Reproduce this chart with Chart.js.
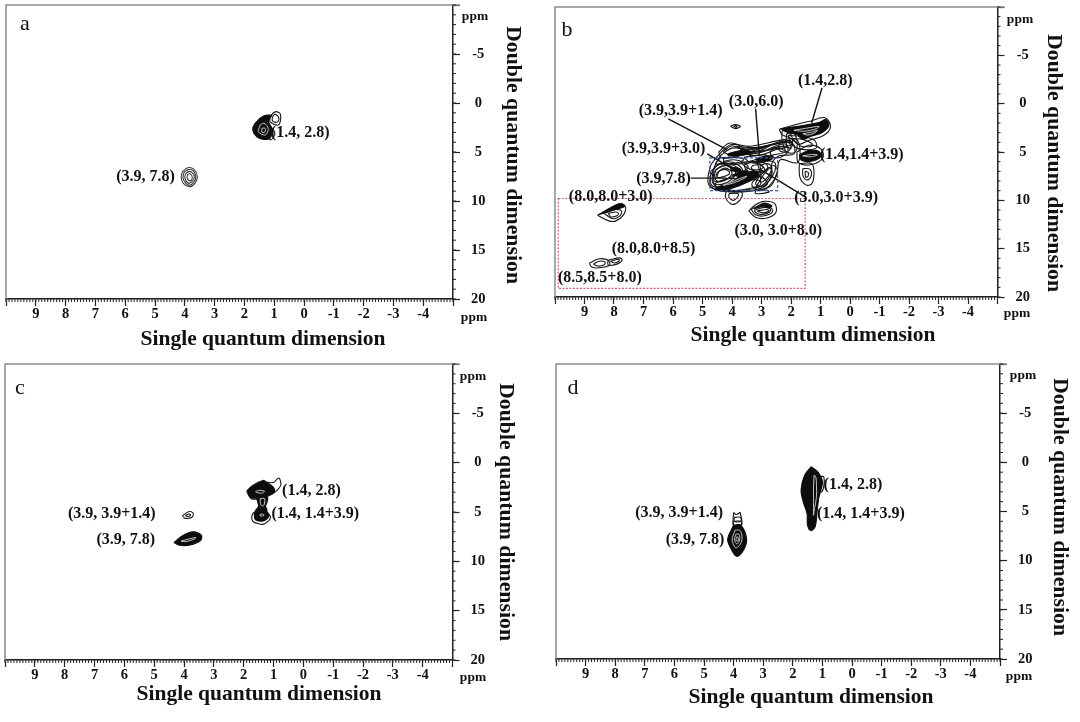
<!DOCTYPE html>
<html>
<head>
<meta charset="utf-8">
<title>Double quantum NMR spectra</title>
<script src="https://cdn.jsdelivr.net/npm/chart.js@4/dist/chart.umd.min.js"></script>
<style>
  html, body { margin: 0; padding: 0; background: #fff; }
  #page { position: relative; width: 1080px; height: 722px; overflow: hidden; }
  canvas { position: absolute; filter: blur(0.35px); }
</style>
</head>
<body>
<div id="page">
  <canvas id="panelA"></canvas>
  <canvas id="panelB"></canvas>
  <canvas id="panelC"></canvas>
  <canvas id="panelD"></canvas>
</div>
<script>
// Axis ticks (ppm)
const sqTicks = [9, 8, 7, 6, 5, 4, 3, 2, 1, 0, -1, -2, -3, -4];
const dqTicks = [-5, 0, 5, 10, 15, 20];

// Contours, each point is [single quantum, double quantum] in ppm
// Panel a
const aPeak14Lobe = [[0.8,1.05],[0.94,0.88],[1.08,1.2],[1.14,1.9],[0.86,2.25],[0.78,1.57]];
const aPeak14Lobe2 = [[0.88,1.3],[0.98,1.15],[1.06,1.5],[1.05,1.85],[0.9,1.95],[0.84,1.6]];
const aPeak14Tail = [[1.08,2.6],[0.98,3.0],[1.02,3.5],[1.14,3.75],[1.2,3.2]];
const aPeak14Solid = [[1.08,1.22],[1.36,1.33],[1.64,2.07],[1.72,2.75],[1.58,3.44],[1.36,3.71],[1.14,3.6],[1.08,2.6],[1.19,1.9]];
const aPeak14Core = [[1.47,2.25],[1.53,2.93],[1.3,3.27],[1.2,2.6],[1.34,2.07]];
const aPeak14Core2 = [[1.4,2.55],[1.42,2.95],[1.32,3.0],[1.3,2.6]];
const aPeak39Ring1 = [[4.08,7.0],[3.9,6.6],[3.7,6.75],[3.58,7.5],[3.66,8.2],[3.85,8.55],[4.05,8.2],[4.12,7.6]];
const aPeak39Ring2 = [[4.02,7.05],[3.88,6.8],[3.72,6.9],[3.63,7.5],[3.7,8.1],[3.86,8.4],[4.0,8.05],[4.06,7.6]];
const aPeak39Ring3 = [[3.96,7.15],[3.86,7.0],[3.75,7.1],[3.68,7.55],[3.75,8.0],[3.86,8.2],[3.96,7.95],[4.0,7.55]];
const aPeak39Ring4 = [[3.9,7.25],[3.8,7.25],[3.75,7.65],[3.82,7.95],[3.92,7.65]];

// Panel b
const bPeak14Ring = [[2.4,2.65],[1.9,2.2],[1.4,1.85],[0.85,1.45],[0.66,2.4],[0.9,3.3],[1.4,3.8],[1.75,4.2],[2.0,3.6],[2.3,3.2]];
const bPeak14Solid = [[2.35,2.6],[1.9,2.4],[1.5,2.2],[1.05,1.95],[0.82,1.65],[0.72,2.3],[0.95,3.0],[1.35,3.4],[1.6,3.7],[1.8,3.2],[2.1,3.0]];
const bPeak14Stripe = [[1.9,2.75],[1.5,2.55],[1.05,2.35],[1.15,2.6],[1.55,2.85]];
const bPeak14Stripe2 = [[1.6,3.1],[1.3,2.95],[1.1,2.75],[1.25,3.1],[1.45,3.25]];
const bPeak39Solid = [[4.55,8.7],[4.0,8.05],[3.6,7.25],[3.2,7.0],[3.1,7.4],[3.5,8.15],[4.0,8.75],[4.4,9.05]];
const bPeak39Stripe = [[4.3,8.45],[3.9,7.95],[3.5,7.5],[3.6,7.75],[4.0,8.25]];
const bPeak39Solid2 = [[4.05,6.6],[3.75,6.7],[3.7,7.0],[4.0,6.95]];
const bPeak39Solid3 = [[4.0,7.4],[3.65,7.0],[3.45,7.05],[3.7,7.5]];
const bPeak43Solid = [[4.15,5.2],[3.7,4.85],[3.4,4.9],[3.3,5.15],[3.7,5.3],[4.1,5.4]];
const bPeak30Solid = [[3.2,5.75],[2.9,5.45],[2.6,5.55],[2.75,5.9],[3.1,6.0]];
const bPeak54Solid = [[1.72,5.3],[1.4,4.85],[1.05,4.95],[1.0,5.5],[1.3,5.95],[1.65,5.85]];
const bPeak54Stripe = [[1.6,5.4],[1.3,5.25],[1.1,5.3],[1.35,5.5]];
const bPeak54Ring = [[1.8,5.0],[1.4,4.3],[0.98,4.7],[0.92,5.6],[1.3,6.3],[1.75,6.1]];
const bPeak54Upper = [[2.1,3.3],[1.6,3.4],[1.2,3.8],[1.15,4.6],[1.7,4.7],[1.95,4.2]];
const bPeak54Upper2 = [[1.95,3.6],[1.6,3.7],[1.3,4.1],[1.3,4.4],[1.65,4.4],[1.8,4.1]];
const bTail1 = [[1.72,6.2],[1.3,6.2],[1.22,7.2],[1.3,8.3],[1.5,8.4],[1.7,7.6]];
const bTail2 = [[1.6,6.7],[1.35,6.8],[1.33,7.6],[1.47,7.9],[1.6,7.4]];
const bTail3 = [[1.52,7.0],[1.42,7.1],[1.42,7.5],[1.5,7.6]];
const bWeb1 = [[4.5,5.45],[4.05,4.25],[3.38,4.41],[2.25,3.72],[1.8,3.72],[1.69,5.1],[1.8,6.13],[2.36,5.79],[2.48,7.16],[2.7,8.54],[3.38,9.06],[4.28,9.06],[4.79,8.37],[4.73,6.47]];
const bWeb2 = [[4.4,5.4],[4.0,4.6],[3.4,4.7],[2.4,4.1],[1.95,4.1],[1.9,5.2],[2.4,5.4],[2.65,6.2],[2.65,7.4],[2.9,8.4],[3.5,8.9],[4.2,8.9],[4.65,8.2],[4.6,6.6]];
const bWeb3 = [[4.3,5.7],[3.9,5.5],[3.3,5.1],[2.7,4.8],[2.4,4.6],[2.2,5.0],[2.6,5.3],[3.2,5.8],[3.7,6.2],[4.2,6.3]];
const bWeb4 = [[4.55,6.8],[4.2,6.4],[3.9,6.8],[3.9,7.4],[4.3,7.9],[4.6,8.0]];
const bWeb5 = [[4.45,7.0],[4.25,6.8],[4.1,7.0],[4.1,7.3],[4.35,7.6],[4.5,7.6]];
const bWeb6 = [[3.6,6.3],[3.2,6.0],[2.85,6.2],[2.8,6.8],[3.1,7.1],[3.5,6.9]];
const bWeb7 = [[3.3,6.4],[3.05,6.3],[2.95,6.6],[3.15,6.85],[3.35,6.7]];
const bWeb8 = [[3.0,7.3],[2.75,6.6],[2.65,7.0],[2.8,7.9],[3.0,8.5],[3.3,8.6],[3.3,8.1]];
const bWeb9 = [[3.85,4.4],[3.6,4.5],[3.3,4.55],[3.0,4.5],[2.7,4.3],[3.1,4.9],[3.5,4.9]];
const bWeb10 = [[2.4,4.0],[2.1,4.0],[2.0,4.5],[2.15,5.0],[2.4,4.8]];
const bWeb11 = [[4.4,5.6],[4.0,5.55],[3.6,5.75],[3.8,6.1],[4.25,6.25],[4.55,6.2]];
const bWeb12 = [[4.3,6.0],[3.95,5.8],[3.6,6.1],[3.45,6.6],[3.7,7.0],[4.0,6.7]];
const bWeb13 = [[3.6,5.55],[3.2,5.35],[2.9,5.3],[2.7,5.6],[3.0,6.1],[3.4,6.05]];
const bWeb14 = [[2.65,4.7],[2.35,4.45],[2.1,4.65],[2.2,5.3],[2.5,5.6],[2.7,5.2]];
const bWeb15 = [[4.75,7.6],[4.55,6.5],[4.25,6.05],[3.95,6.1],[3.65,6.8],[3.75,8.0],[4.2,8.85],[4.7,8.7]];
const bWeb16 = [[2.9,7.2],[2.6,6.4],[2.45,7.0],[2.6,8.0],[2.9,8.85],[3.2,8.9]];
const bWeb17 = [[4.6,8.3],[4.3,7.9],[4.0,7.7],[3.85,7.9],[4.2,8.5],[4.5,8.7]];
const bLobe1 = [[4.72,7.0],[4.4,6.2],[4.0,6.3],[3.75,7.0],[3.85,7.9],[4.3,8.6],[4.7,8.4]];
const bLobe2 = [[4.62,7.1],[4.35,6.45],[4.05,6.55],[3.88,7.1],[4.0,7.8],[4.35,8.35],[4.62,8.2]];
const bLobe3 = [[4.52,7.2],[4.3,6.7],[4.1,6.8],[4.0,7.2],[4.12,7.7],[4.35,8.05],[4.55,7.9]];
const bBand1 = [[3.7,4.7],[3.0,4.6],[2.4,3.95],[2.0,3.9],[2.0,4.3],[2.5,4.5],[3.1,5.1],[3.6,5.2]];
const bBand2 = [[3.4,4.95],[2.9,4.85],[2.4,4.25],[2.15,4.2],[2.15,4.5],[2.5,4.75],[3.0,5.3],[3.4,5.35]];
const bMid1 = [[3.15,6.1],[2.85,5.9],[2.55,6.1],[2.55,7.0],[2.75,8.0],[2.95,8.6],[3.2,8.3],[3.05,7.3]];
const bMid2 = [[3.05,6.4],[2.85,6.2],[2.68,6.4],[2.68,7.0],[2.85,7.8],[3.02,8.1],[3.02,7.2]];
const bMid3 = [[3.7,6.1],[3.3,6.0],[2.95,6.5],[2.9,7.0],[3.2,7.0],[3.5,6.6]];
const bLow1 = [[4.6,8.9],[4.1,8.3],[3.6,7.6],[3.0,7.6],[2.8,8.3],[3.2,8.9],[3.9,9.1]];
const bLow2 = [[4.4,8.85],[3.95,8.45],[3.5,7.95],[3.05,7.95],[3.05,8.4],[3.45,8.8],[3.95,9.0]];
const bTop1 = [[4.45,5.0],[4.1,4.1],[3.7,4.4],[3.55,5.0],[3.9,5.5],[4.35,5.6]];
const bTop2 = [[4.3,5.0],[4.05,4.4],[3.75,4.6],[3.7,5.0],[4.0,5.35]];
const bSide1 = [[2.3,2.8],[1.95,2.9],[1.8,3.8],[1.85,5.0],[2.15,5.0],[2.3,3.8]];
const bSide2 = [[2.15,3.1],[2.0,3.2],[1.95,4.0],[2.0,4.6],[2.15,4.3]];
const bBelow1 = [[4.2,9.05],[3.7,9.05],[3.66,9.6],[3.85,10.3],[4.05,10.35],[4.22,9.7]];
const bBelow2 = [[4.1,9.3],[3.8,9.3],[3.8,9.6],[3.95,10.0],[4.1,9.7]];
const bBelow3 = [[3.2,8.95],[2.8,8.95],[2.75,9.15],[3.2,9.3]];
const bSmall = [[4.05,2.35],[3.88,2.15],[3.72,2.35],[3.88,2.58]];
const bSmall2 = [[3.95,2.33],[3.88,2.27],[3.82,2.35],[3.88,2.45]];
const b3080Ring = [[3.43,11.1],[3.2,10.45],[2.9,10.1],[2.55,10.35],[2.52,11.3],[2.85,11.85],[3.2,11.75]];
const b3080Ring2 = [[3.35,10.95],[3.05,10.5],[2.75,10.6],[2.62,11.15],[2.9,11.6],[3.2,11.5]];
const b3080Ring3 = [[3.25,11.05],[2.95,10.75],[2.7,10.9],[2.72,11.2],[2.95,11.45],[3.15,11.35]];
const b3080Solid = [[3.25,10.9],[2.95,10.3],[2.65,10.55],[2.75,10.75],[3.0,10.65]];
const b3080Core = [[3.15,11.1],[2.8,10.95],[2.75,11.1],[2.95,11.3]];
const b8030Ring = [[8.56,11.55],[8.2,11.0],[7.85,10.35],[7.62,10.6],[7.68,11.5],[7.95,12.15],[8.2,12.1]];
const b8030Ring2 = [[8.35,11.3],[8.0,10.95],[7.75,11.1],[7.8,11.6],[8.05,11.9]];
const b8030Ring3 = [[8.2,11.35],[7.95,11.2],[7.85,11.35],[7.9,11.6],[8.1,11.7]];
const b8030Solid = [[8.5,11.45],[8.1,10.75],[7.75,10.35],[7.65,10.65],[7.95,10.95],[8.25,11.25]];
const b8085Ring = [[8.84,16.5],[8.5,16.05],[8.2,16.2],[8.15,16.7],[8.5,16.98],[8.75,16.9]];
const b8085Ring2 = [[8.7,16.6],[8.5,16.3],[8.3,16.4],[8.35,16.7],[8.55,16.8]];
const b8085Ring3 = [[8.2,16.2],[7.8,15.95],[7.72,16.2],[7.9,16.6],[8.2,16.7]];
const b8085Ring4 = [[8.12,16.3],[7.85,16.1],[7.82,16.25],[7.98,16.48]];
const bRidge = [[4.15,5.3],[3.5,5.05],[2.9,4.5],[2.05,3.8]];

// Panel c
const cPeak14Ring = [[1.9,2.9],[1.7,2.3],[1.35,1.8],[1.2,2.0],[1.0,2.0],[0.82,1.55],[0.76,2.3],[0.98,3.05],[1.2,3.4],[1.45,3.65],[1.75,3.65]];
const cPeak14Solid = [[1.88,2.9],[1.7,2.4],[1.35,1.9],[1.15,2.15],[1.0,2.5],[0.98,3.0],[1.2,3.3],[1.45,3.55],[1.75,3.55]];
const cPeak14Lobe = [[1.3,2.9],[1.45,2.8],[1.6,2.95],[1.4,3.1]];
const cNeck1 = [[1.55,3.6],[1.5,4.6],[1.7,5.2],[1.7,5.9],[1.5,6.2],[1.3,6.2],[1.1,5.5],[1.28,4.7],[1.2,3.6]];
const cNeck2 = [[1.45,3.65],[1.42,4.3],[1.33,4.35],[1.3,3.65]];
const cNeckBand = [[1.58,3.5],[1.5,4.4],[1.6,4.9],[1.22,4.9],[1.28,4.3],[1.2,3.5]];
const cNeckSolid = [[1.65,5.1],[1.35,4.75],[1.15,5.3],[1.3,5.85],[1.6,5.8]];
const cNeckCore = [[1.45,5.25],[1.35,5.2],[1.32,5.35],[1.44,5.4]];
const cPeak43Ring = [[4.06,5.4],[3.85,4.98],[3.7,5.1],[3.72,5.5],[3.95,5.65]];
const cPeak43Ring2 = [[3.96,5.35],[3.84,5.2],[3.78,5.28],[3.86,5.45]];
const cPeak39Solid = [[4.34,8.1],[4.05,7.4],[3.7,7.0],[3.42,7.35],[3.45,7.9],[3.8,8.35],[4.15,8.37]];
const cPeak39Core = [[4.1,7.95],[3.8,7.7],[3.6,7.6],[3.7,7.8],[3.95,8.0]];

// Panel d
const dPeak14Solid = [[1.38,0.45],[1.6,1.3],[1.72,2.8],[1.65,4.0],[1.52,5.2],[1.5,6.4],[1.38,6.95],[1.24,6.5],[1.18,5.0],[1.12,3.6],[1.0,2.0],[1.15,1.0]];
const dPeak14Core = [[1.28,1.3],[1.3,2.5],[1.3,3.6],[1.3,4.6],[1.3,5.4],[1.26,4.6],[1.2,3.5],[1.2,2.4],[1.22,1.5]];
const dPeak14Side = [[1.03,1.4],[0.95,1.5],[0.95,2.4],[1.02,3.0],[1.1,2.9],[1.1,1.9]];
const dPeak39Solid = [[4.0,6.4],[4.2,7.8],[4.1,8.7],[3.9,9.55],[3.7,9.1],[3.56,7.9],[3.75,6.4]];
const dPeak39Tab = [[4.0,5.1],[3.92,5.3],[3.86,5.25],[3.78,5.1],[3.74,6.5],[4.0,6.5]];
const dPeak39Tab2 = [[3.97,5.6],[3.77,5.6],[3.76,6.0],[3.98,6.0]];
const dPeak39Tab3 = [[3.99,6.0],[3.76,6.0],[3.74,6.4],[4.0,6.4]];
const dPeak39Ring1 = [[3.95,6.9],[4.05,7.9],[3.92,8.7],[3.75,8.2],[3.72,7.4],[3.8,6.9]];
const dPeak39Ring2 = [[3.92,7.3],[3.97,7.9],[3.88,8.3],[3.8,7.9],[3.82,7.3]];
const dPeak39Ring3 = [[3.9,7.6],[3.92,7.9],[3.87,8.05],[3.84,7.9],[3.85,7.6]];

// Peak labels: text plus where it sits on the ppm axes
const aPeakText = ["(1.4, 2.8)", "(3.9, 7.8)"];
const aPeakX = [0.13, 5.32];
const aPeakY = [3.06, 7.55];
const bPeakText = ["(1.4,2.8)", "(3.0,6.0)", "(3.9,3.9+1.4)", "(3.9,3.9+3.0)", "(3.9,7.8)", "(1.4,1.4+3.9)", "(8.0,8.0+3.0)", "(3.0,3.0+3.9)", "(3.0, 3.0+8.0)", "(8.0,8.0+8.5)", "(8.5,8.5+8.0)"];
const bPeakX = [0.84, 3.18, 5.74, 6.32, 6.32, -0.4, 8.11, 0.47, 2.43, 6.66, 8.48];
const bPeakY = [-2.38, -0.2, 0.72, 4.65, 7.75, 5.27, 9.6, 9.71, 13.2, 14.98, 17.98];
const cPeakText = ["(1.4, 2.8)", "(1.4, 1.4+3.9)", "(3.9, 3.9+1.4)", "(3.9, 7.8)"];
const cPeakX = [-0.27, -0.4, 6.42, 5.95];
const cPeakY = [2.86, 5.2, 5.2, 7.86];
const dPeakText = ["(1.4, 2.8)", "(1.4, 1.4+3.9)", "(3.9, 3.9+1.4)", "(3.9, 7.8)"];
const dPeakX = [-0.03, -0.3, 5.84, 5.3];
const dPeakY = [2.24, 5.2, 5.1, 7.86];

// Leader lines and boxes on panel b, in ppm
const bLeaders = [
  [[6.16, 1.58], [4.17, 4.75]],
  [[4.84, 5.2], [3.88, 6.9]],
  [[5.4, 7.7], [4.17, 7.7]],
  [[3.2, 0.52], [3.07, 5.44]],
  [[0.95, -1.62], [1.3, 2.0]],
  [[1.52, 9.64], [3.03, 6.82]]
];
const bBlueBox = [4.75, 5.6, 2.455, 8.99];
const bRedBox = [9.89, 9.81, 1.52, 19.11];

const FONT = '"Liberation Serif", "Times New Roman", serif';

function ringSet(list, kind) {
  return list.map(function (pts) {
    const closed = pts.concat([pts[0]]).map(function (p) { return { x: p[0], y: p[1] }; });
    const ds = { data: closed, showLine: true, pointRadius: 0, tension: 0.35, fill: false, borderWidth: 1.1, borderColor: "#161616" };
    if (kind === "solid") {
      ds.fill = "shape";
      ds.backgroundColor = "#0d0d0d";
      ds.borderColor = "#0d0d0d";
    }
    if (kind === "light") {
      ds.borderColor = "#d8d8d8";
      ds.borderWidth = 0.9;
    }
    if (kind === "grey") {
      ds.borderColor = "#3c3c3c";
    }
    return ds;
  });
}

// Draws the parts Chart.js has no option for: minor ticks, grey frame, labels
const panelMarks = {
  id: "panelMarks",
  afterDraw(chart, args, o) {
    const ctx = chart.ctx, x = chart.scales.x, y = chart.scales.y, area = chart.chartArea;
    ctx.save();

    ctx.strokeStyle = "#8c8c8c";
    ctx.lineWidth = 1.5;
    ctx.beginPath();
    ctx.moveTo(area.left, area.bottom);
    ctx.lineTo(area.left, area.top);
    ctx.lineTo(area.right + 7, area.top);
    ctx.stroke();

    ctx.strokeStyle = "#222";
    ctx.lineWidth = 1;
    ctx.beginPath();
    for (let i = -50; i <= 100; i++) {
      const px = x.getPixelForValue(i / 10);
      ctx.moveTo(px, area.bottom);
      ctx.lineTo(px, area.bottom + 3);
    }
    for (let v = -10; v <= 20; v++) {
      const py = y.getPixelForValue(v);
      ctx.moveTo(area.right, py);
      ctx.lineTo(area.right + 3, py);
    }
    ctx.stroke();

    (o.leaders || []).forEach(function (l) {
      ctx.strokeStyle = "#111";
      ctx.lineWidth = 1.4;
      ctx.beginPath();
      ctx.moveTo(x.getPixelForValue(l[0][0]), y.getPixelForValue(l[0][1]));
      ctx.lineTo(x.getPixelForValue(l[1][0]), y.getPixelForValue(l[1][1]));
      ctx.stroke();
    });
    (o.boxes || []).forEach(function (b) {
      const x0 = x.getPixelForValue(b.r[0]), y0 = y.getPixelForValue(b.r[1]);
      const x1 = x.getPixelForValue(b.r[2]), y1 = y.getPixelForValue(b.r[3]);
      ctx.strokeStyle = b.color;
      ctx.lineWidth = 1.2;
      ctx.setLineDash(b.dash);
      ctx.strokeRect(x0, y0, x1 - x0, y1 - y0);
      ctx.setLineDash([]);
    });

    ctx.fillStyle = "#111";
    ctx.textAlign = "center";
    ctx.textBaseline = "middle";
    ctx.font = "bold 16px " + FONT;
    o.peakText.forEach(function (t, i) {
      ctx.fillText(t, x.getPixelForValue(o.peakX[i]), y.getPixelForValue(o.peakY[i]));
    });

    ctx.font = "bold 13.5px " + FONT;
    ctx.fillText("ppm", o.topPpm[0], o.topPpm[1]);
    ctx.fillText("ppm", o.sidePpm[0], o.sidePpm[1]);

    ctx.font = "22px " + FONT;
    ctx.fillText(o.letter, o.letterAt[0], o.letterAt[1]);

    ctx.font = "bold 21.5px " + FONT;
    ctx.fillText("Single quantum dimension", o.xTitle[0], o.xTitle[1]);
    ctx.translate(o.yTitle[0], o.yTitle[1]);
    ctx.rotate(Math.PI / 2);
    ctx.font = "bold 21.8px " + FONT;
    ctx.fillText("Double quantum dimension", 0, 0);
    ctx.restore();
  }
};

function drawPanel(id, frame, box, sets, marks) {
  const canvas = document.getElementById(id);
  canvas.style.left = frame.left + "px";
  canvas.style.top = frame.top + "px";
  canvas.style.width = frame.width + "px";
  canvas.style.height = frame.height + "px";
  canvas.width = frame.width;
  canvas.height = frame.height;

  // Chart.js paints the last dataset first, so the top layer goes first in the list
  const datasets = ringSet(sets.light || [], "light").concat(
    ringSet(sets.solid || [], "solid"),
    ringSet(sets.grey || [], "grey"),
    ringSet(sets.lines || [], "line")
  );

  new Chart(canvas, {
    type: "scatter",
    data: { datasets: datasets },
    plugins: [panelMarks],
    options: {
      responsive: false,
      animation: false,
      layout: { padding: { left: box.l - frame.left, top: box.t - frame.top, right: 0, bottom: 0 } },
      plugins: { legend: { display: false }, tooltip: { enabled: false }, panelMarks: marks },
      scales: {
        x: {
          type: "linear", reverse: true, min: -5, max: 10,
          afterFit(s) { s.height = frame.top + frame.height - box.b; s.paddingLeft = 0; s.paddingRight = 0; },
          afterBuildTicks(s) { s.ticks = [-5].concat(sqTicks, [10]).map(function (v) { return { value: v }; }); },
          border: { color: "#222", width: 1.5 },
          grid: { drawOnChartArea: false, drawTicks: true, tickLength: 7, color: "#222", tickWidth: 1.2 },
          ticks: {
            autoSkip: false, maxRotation: 0, padding: 0, color: "#111",
            font: { family: FONT, weight: "bold", size: 14.5 },
            callback(v) { return sqTicks.indexOf(v) >= 0 ? String(v) : ""; }
          }
        },
        y: {
          type: "linear", position: "right", reverse: true, min: -10, max: 20,
          afterFit(s) { s.width = frame.left + frame.width - box.r; s.paddingTop = 0; s.paddingBottom = 0; },
          afterBuildTicks(s) { s.ticks = [-10].concat(dqTicks).map(function (v) { return { value: v }; }); },
          border: { color: "#222", width: 1.5 },
          grid: { drawOnChartArea: false, drawTicks: true, tickLength: 7, color: "#222", tickWidth: 1.2 },
          ticks: {
            crossAlign: "center", padding: 11, color: "#111",
            font: { family: FONT, weight: "bold", size: 14.5 },
            callback(v) { return dqTicks.indexOf(v) >= 0 ? String(v) : ""; }
          }
        }
      }
    }
  });
}

drawPanel("panelA", { left: 0, top: 0, width: 540, height: 355 }, { l: 6, t: 5, r: 453, b: 299 }, {
  lines: [aPeak14Lobe, aPeak14Lobe2, aPeak14Tail],
  grey: [aPeak39Ring1, aPeak39Ring2, aPeak39Ring3, aPeak39Ring4],
  solid: [aPeak14Solid],
  light: [aPeak14Core, aPeak14Core2]
}, {
  peakText: aPeakText, peakX: aPeakX, peakY: aPeakY, letter: "a", letterAt: [25, 24],
  topPpm: [475, 17], sidePpm: [474, 318], xTitle: [263, 339], yTitle: [513, 155]
});

drawPanel("panelB", { left: 540, top: 0, width: 540, height: 355 }, { l: 555, t: 7, r: 997.5, b: 297 }, {
  lines: [bWeb1, bWeb2, bWeb3, bWeb4, bWeb5, bWeb6, bWeb7, bWeb8, bWeb9, bWeb10, bWeb11, bWeb12, bWeb13, bWeb14, bWeb15, bWeb16, bWeb17, bLobe1, bLobe2, bLobe3, bBand1, bBand2, bMid1, bMid2, bMid3, bLow1, bLow2, bTop1, bTop2, bSide1, bSide2, bPeak14Ring, bPeak54Ring, bPeak54Upper, bPeak54Upper2, bTail1, bTail2, bTail3, bBelow1, bBelow2, bBelow3, bSmall, bSmall2, b3080Ring, b3080Ring2, b3080Ring3, b3080Core, b8030Ring, b8030Ring2, b8030Ring3, b8085Ring, b8085Ring2, b8085Ring3, b8085Ring4, bRidge],
  solid: [bPeak14Solid, bPeak39Solid, bPeak39Solid2, bPeak39Solid3, bPeak43Solid, bPeak30Solid, bPeak54Solid, b3080Solid, b8030Solid],
  light: [bPeak14Stripe, bPeak14Stripe2, bPeak39Stripe, bPeak54Stripe]
}, {
  peakText: bPeakText, peakX: bPeakX, peakY: bPeakY, letter: "b", letterAt: [27, 30],
  topPpm: [480, 20], sidePpm: [477, 314], xTitle: [273, 335], yTitle: [514, 163],
  leaders: bLeaders,
  boxes: [{ r: bBlueBox, color: "#3a55b0", dash: [3, 2] }, { r: bRedBox, color: "#d0606a", dash: [2, 1.5] }]
});

drawPanel("panelC", { left: 0, top: 355, width: 540, height: 367 }, { l: 5, t: 364, r: 452.5, b: 660 }, {
  lines: [cPeak14Ring, cNeck1, cPeak43Ring, cPeak43Ring2],
  solid: [cPeak14Solid, cNeckBand, cNeckSolid, cPeak39Solid],
  light: [cPeak14Lobe, cNeck2, cNeckCore, cPeak39Core]
}, {
  peakText: cPeakText, peakX: cPeakX, peakY: cPeakY, letter: "c", letterAt: [20, 33],
  topPpm: [473, 22], sidePpm: [473, 323], xTitle: [259, 339], yTitle: [506, 157]
});

drawPanel("panelD", { left: 540, top: 355, width: 540, height: 367 }, { l: 556, t: 364, r: 1000, b: 659 }, {
  lines: [dPeak14Side, dPeak39Tab, dPeak39Tab2, dPeak39Tab3],
  solid: [dPeak14Solid, dPeak39Solid],
  light: [dPeak14Core, dPeak39Ring1, dPeak39Ring2, dPeak39Ring3]
}, {
  peakText: dPeakText, peakX: dPeakX, peakY: dPeakY, letter: "d", letterAt: [33, 33],
  topPpm: [483, 21], sidePpm: [479, 322], xTitle: [271, 342], yTitle: [520, 152]
});
</script>
</body>
</html>
